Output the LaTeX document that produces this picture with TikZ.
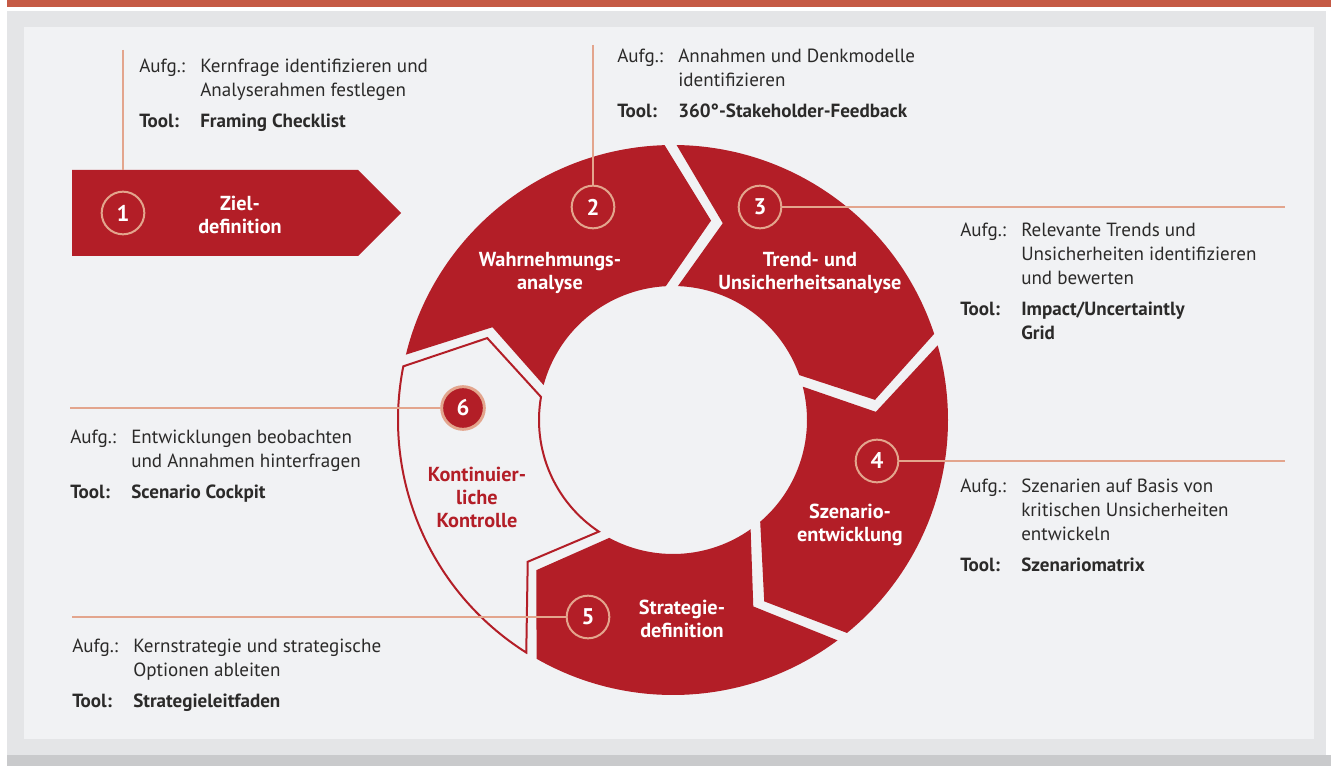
\documentclass[tikz,border=0pt]{standalone}
\usepackage{fontspec}
\setmainfont{PT Sans}
\definecolor{ringred}{HTML}{B31E27}
\definecolor{salmon}{HTML}{E3A58D}
\definecolor{panelgray}{HTML}{E4E5E7}
\definecolor{panellight}{HTML}{F1F2F4}
\definecolor{bandgray}{HTML}{C9CACC}
\definecolor{topred}{HTML}{C55A45}
\definecolor{textdark}{HTML}{2B2A29}

\begin{document}
\begin{tikzpicture}[x=0.75pt,y=-0.75pt,
step circle/.style={circle,draw=salmon,line width=1.5pt,minimum size=32pt,inner sep=0pt,text=white,font=\bfseries\fontsize{17}{20}\selectfont},
step label/.style={align=center,text=white,font=\bfseries\fontsize{15.2}{17.25}\selectfont},
task/.style={anchor=base west,inner sep=0pt,text=textdark,font=\fontsize{14.3}{18}\selectfont},
lead/.style={draw=salmon,line width=1.2pt},
ring seg/.style 2 args={insert path={(#1-1.25:275) arc[start angle=#1-1.25,end angle=#2+1.25,radius=275]
  -- (#2-13+1.7:203) -- (#2+2.6:134) arc[start angle=#2+2.6,end angle=#1-2.6,radius=134]
  -- (#1-13-1.7:203) -- cycle}}
]
\useasboundingbox (0,0) rectangle (1331,766);
\fill[white] (0,0) rectangle (1331,766);
\fill[topred] (7,0) rectangle (1331,7);
\fill[panelgray] (7,11) rectangle (1326,755);
\fill[panellight] (24,27) rectangle (1314,739);
\fill[bandgray] (7,755) rectangle (1331,766);

% Zieldefinition
\fill[ringred] (72,170) -- (358,170) -- (401,213) -- (358,256) -- (72,256) -- cycle;
\coordinate (ziel top) at (123,170);

% ring
\begin{scope}[shift={(673,420)},y=0.75pt]
\fill[ringred,ring seg={167.5}{90.5}];
\fill[ringred,ring seg={90.5}{17}];
\fill[ringred,ring seg={17}{-52}];
\fill[ringred,ring seg={-52}{-121}];
\filldraw[fill=panellight,draw=ringred,line width=1.5pt,ring seg={239}{167.5}];
\end{scope}

\node[style=step label] (ziel) at (240,215) {Ziel-\\definition};
\node[style=step label] (wahrnehmung) at (550,273) {Wahrnehmungs-\\analyse};
\node[style=step label] (trend) at (810,273) {Trend- und\\Unsicherheitsanalyse};
\node[style=step label] (szenario) at (850,525) {Szenario-\\entwicklung};
\node[style=step label] (strategie) at (682,619) {Strategie-\\definition};
\node[style=step label,text=ringred] (kontrolle) at (477,497) {Kontinuier-\\liche\\Kontrolle};

\node[style=step circle] (circle 1) at (123,213) {1};
\node[style=step circle] (circle 2) at (593,207) {2};
\node[style=step circle] (circle 3) at (760,207) {3};
\node[style=step circle] (circle 4) at (877,461) {4};
\node[style=step circle] (circle 5) at (588,617) {5};
\node[style=step circle,fill=ringred,line width=2.2pt] (circle 6) at (463,408) {6};

\coordinate (lead 1) at (123,50);
\coordinate (lead 2) at (593,45);
\coordinate (lead 3) at (1285,207);
\coordinate (lead 4) at (1285,461);
\coordinate (lead 5) at (72,617);
\coordinate (lead 6) at (70,408);
\path[style=lead] (lead 1) -- (ziel top);
\path[style=lead] (lead 2) -- (circle 2.north);
\path[style=lead] (circle 3.east) -- (lead 3);
\path[style=lead] (circle 4.east) -- (lead 4);
\path[style=lead] (lead 5) -- (circle 5.west);
\path[style=lead] (lead 6) -- (circle 6.west);

\node[style=task] (task 1) at (139,73) {\begin{tabular}[t]{@{}p{45.75pt}@{}l@{}}
Aufg.: & Kernfrage identifizieren und\\ & Analyserahmen festlegen\\[5.25pt]
\textbf{Tool:} & \textbf{Framing Checklist}\end{tabular}};
\node[style=task] (task 2) at (617,63) {\begin{tabular}[t]{@{}p{45.75pt}@{}l@{}}
Aufg.: & Annahmen und Denkmodelle\\ & identifizieren\\[5.25pt]
\textbf{Tool:} & \textbf{360°-Stakeholder-Feedback}\end{tabular}};
\node[style=task] (task 3) at (960,237) {\begin{tabular}[t]{@{}p{45.75pt}@{}l@{}}
Aufg.: & Relevante Trends und\\ & Unsicherheiten identifizieren\\ & und bewerten\\[5.25pt]
\textbf{Tool:} & \textbf{Impact/Uncertaintly}\\ & \textbf{Grid}\end{tabular}};
\node[style=task] (task 4) at (960,492) {\begin{tabular}[t]{@{}p{45.75pt}@{}l@{}}
Aufg.: & Szenarien auf Basis von\\ & kritischen Unsicherheiten\\ & entwickeln\\[5.25pt]
\textbf{Tool:} & \textbf{Szenariomatrix}\end{tabular}};
\node[style=task] (task 5) at (72,652) {\begin{tabular}[t]{@{}p{45.75pt}@{}l@{}}
Aufg.: & Kernstrategie und strategische\\ & Optionen ableiten\\[5.25pt]
\textbf{Tool:} & \textbf{Strategieleitfaden}\end{tabular}};
\node[style=task] (task 6) at (70,443) {\begin{tabular}[t]{@{}p{45.75pt}@{}l@{}}
Aufg.: & Entwicklungen beobachten\\ & und Annahmen hinterfragen\\[5.25pt]
\textbf{Tool:} & \textbf{Scenario Cockpit}\end{tabular}};
\end{tikzpicture}
\end{document}
